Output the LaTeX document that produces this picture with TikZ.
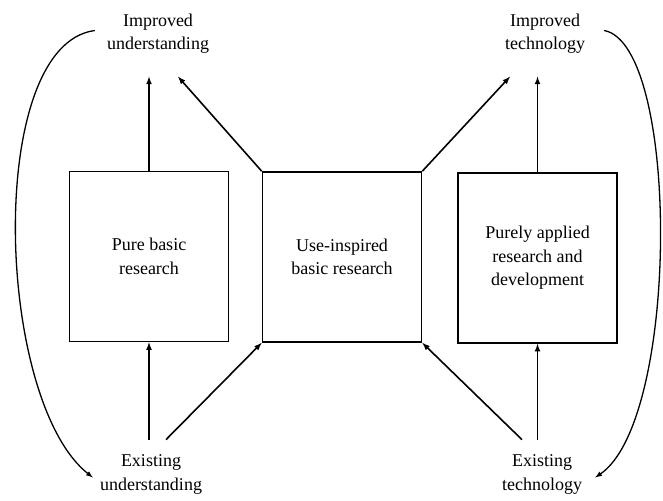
\documentclass[tikz,border=0pt]{standalone}
\usepackage{fontspec}
\setmainfont{Liberation Serif}
\usetikzlibrary{arrows, calc}

\tikzset{
	box/.style={draw, line width=1.6pt, minimum width=159pt, minimum height=170pt, align=center, inner sep=0pt},
	lbl/.style={align=center, inner sep=0pt},
	flow/.style={->, line width=1.6pt}
}

\begin{document}
\begin{tikzpicture}[>=latex, x=1pt, y=1pt, font=\fontsize{18}{23.5}\selectfont]
		\useasboundingbox (0,0) rectangle (663,500);

		\node[box] (pure)     at (149,243.5) {Pure basic\\research};
		\node[box] (inspired) at (342,243)   {Use-inspired\\basic research};
		\node[box] (applied)  at (537.5,242) {Purely applied\\research and\\development};

		\node[lbl] (impU) at (158,466.5) {Improved\\understanding};
		\node[lbl] (impT) at (545,466.5) {Improved\\technology};
		\node[lbl] (exU)  at (151,25.5)  {Existing\\understanding};
		\node[lbl] (exT)  at (542,25.5)  {Existing\\technology};

		\coordinate (impUin) at ($(impU.south)+(0,-23)$);
		\coordinate (impTin) at ($(impT.south)+(0,-23)$);
		\coordinate (exUout) at ($(exU.north)+(0,15)$);
		\coordinate (exTout) at ($(exT.north)+(0,15)$);

		\draw[flow] (pure.north)           -- (pure.north|-impUin);
		\draw[flow] (inspired.north west)  -- ($(impUin)+(20,0)$);
		\draw[flow] (inspired.north east)  -- ($(impTin)+(-35,0)$);
		\draw[flow] (applied.north)        -- (applied.north|-impTin);

		\draw[flow] (pure.south|-exUout)    -- (pure.south);
		\draw[flow] ($(exUout)+(15,0)$)     -- (inspired.south west);
		\draw[flow] ($(exTout)+(-20,0)$)    -- (inspired.south east);
		\draw[flow] (applied.south|-exTout) -- (applied.south);

		% feedback loops
		\draw[->, line width=1.3pt] ($(impU.west)+(-12,3)$) .. controls (-15,455) and (-5,100) .. ($(exU.west)+(-7,-3)$);
		\draw[->, line width=1.3pt] ($(impT.east)+(19,3)$) .. controls (680,455) and (680,80) .. ($(exT.east)+(13,-3)$);
	\end{tikzpicture}
\end{document}
